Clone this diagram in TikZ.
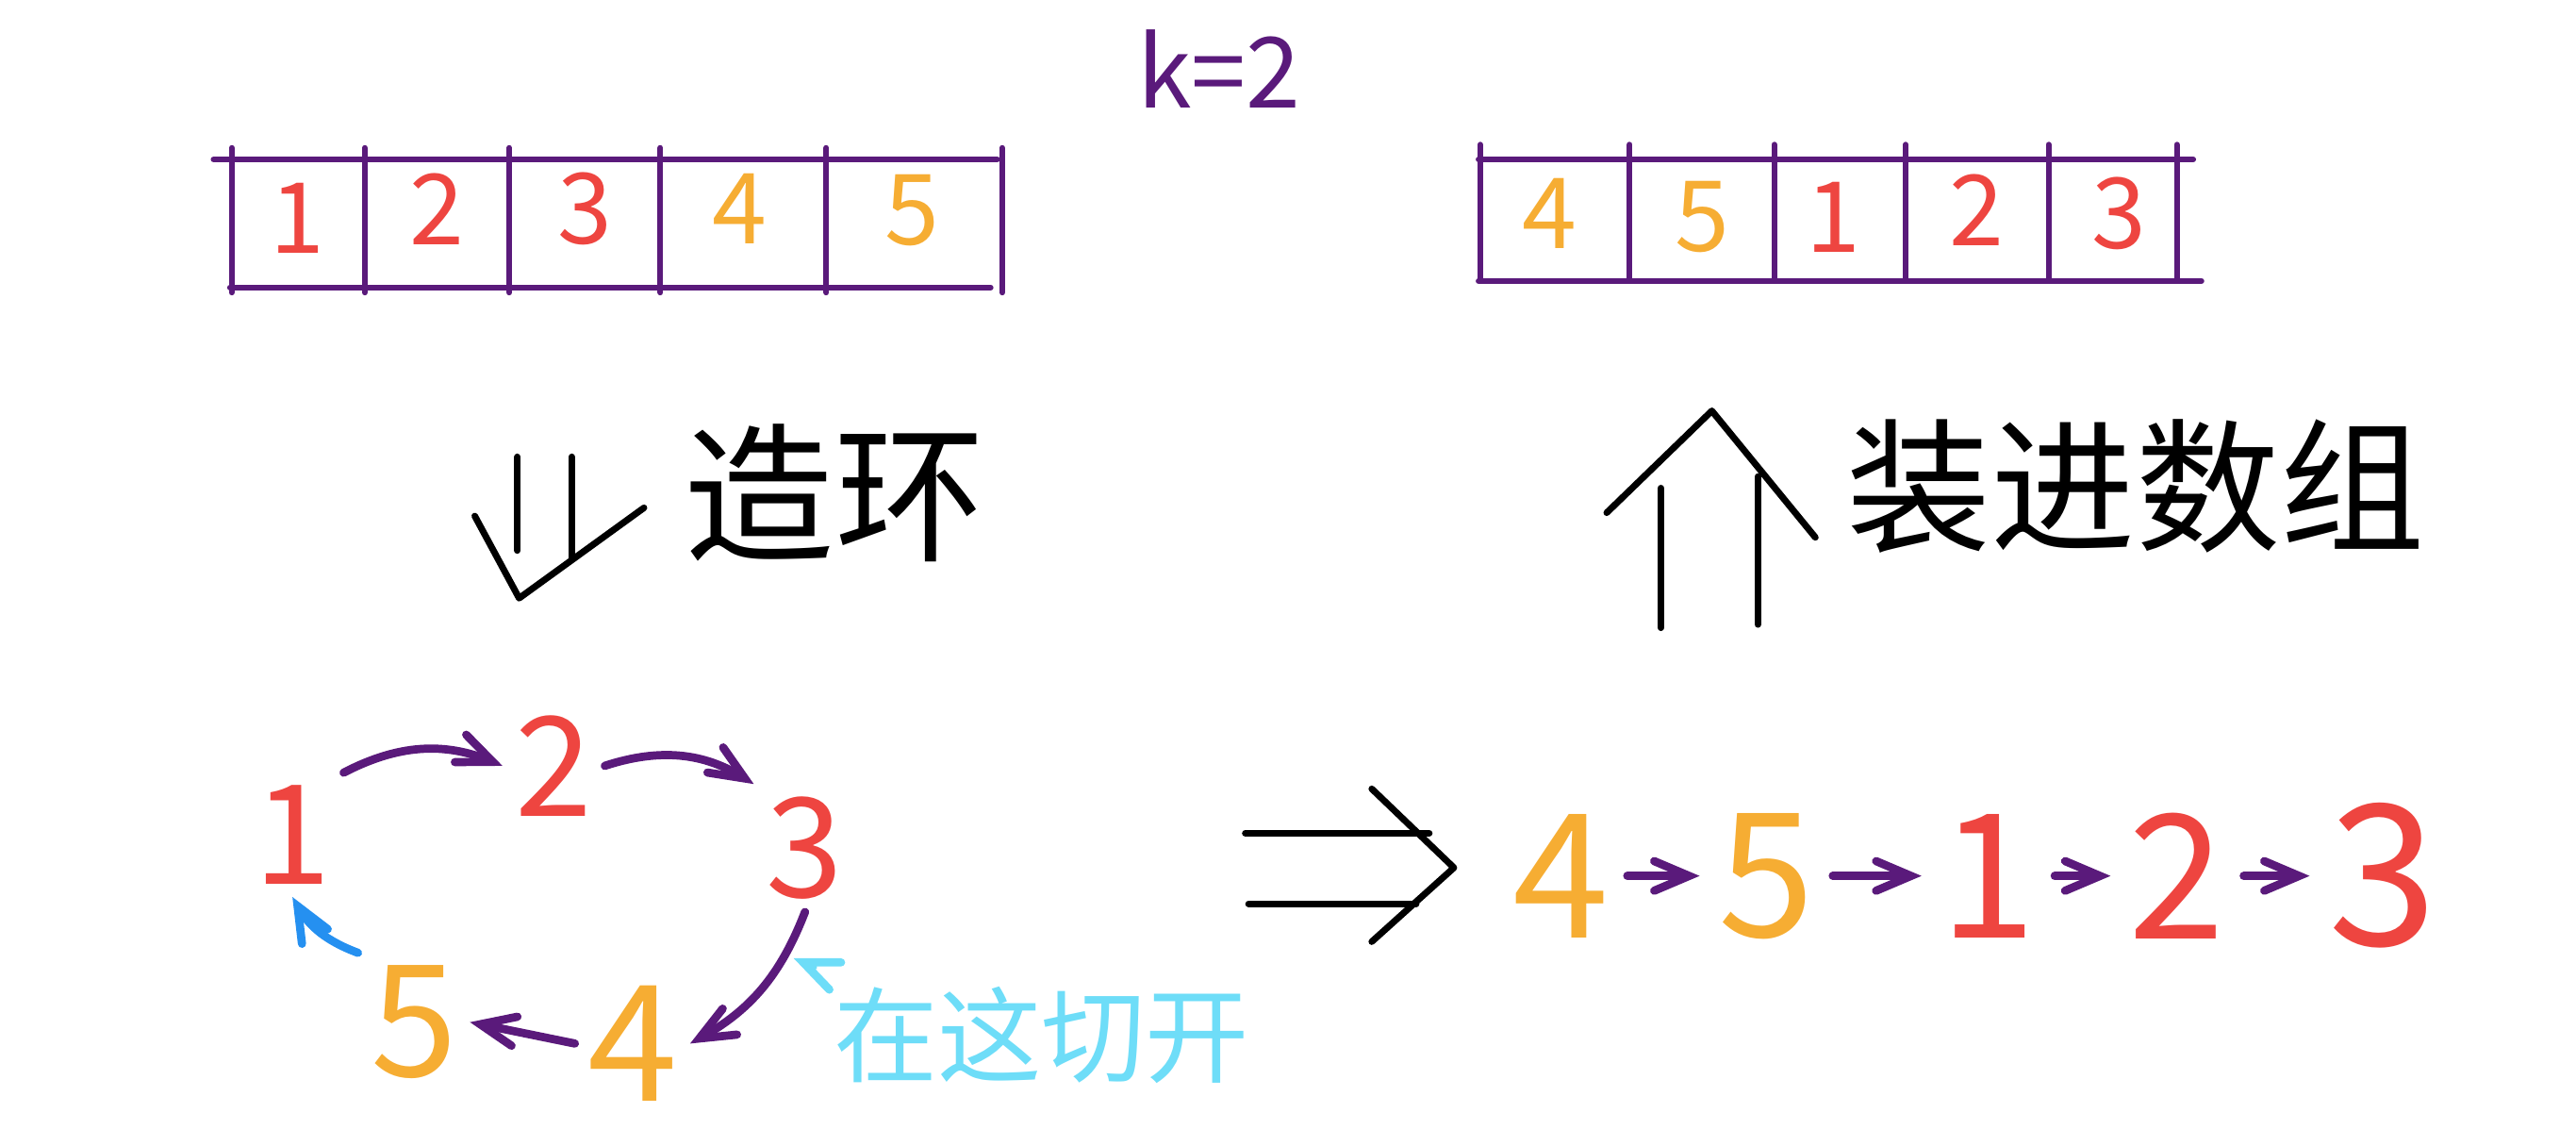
\documentclass[tikz,border=0pt]{standalone}
\usepackage{fontspec}
\setmainfont{Noto Sans CJK SC}
\usetikzlibrary{arrows, positioning}
\definecolor{inkpurple}{HTML}{5A1A7B}
\definecolor{inkred}{HTML}{EE4540}
\definecolor{inkorange}{HTML}{F6AD33}
\definecolor{inkblue}{HTML}{2590F0}
\definecolor{inkcyan}{HTML}{6EDDF8}

\begin{document}
\begin{tikzpicture}[x=0.01cm, y=-0.01cm, node distance=1.25cm]
\tikzstyle{num} = [inner sep=1pt, font=\fontsize{17}{17}\selectfont]
\tikzstyle{ring} = [inner sep=2pt, font=\fontsize{24}{24}\selectfont]
\tikzstyle{big} = [inner sep=3pt, font=\fontsize{30}{30}\selectfont]
\tikzstyle{grid} = [inkpurple, line width=0.035cm, line cap=round]
\tikzstyle{ink} = [black, line width=0.04cm, line cap=round, line join=round]
\tikzstyle{arrow} = [inkpurple, line width=0.05cm, line cap=round, ->, >=angle 45]
\useasboundingbox (0,0) rectangle (1568,697);

 % k and the two arrays
\node[num, inkpurple] (k) at (742,42) {k=2};
\draw[grid] (130,97) -- (607,97);
\draw[grid] (140,175) -- (603,175);
\foreach \x in {141,222,310,402,503,610} \draw[grid] (\x,90) -- (\x,178);
\draw[grid] (900,97) -- (1335,97);
\draw[grid] (900,171) -- (1340,171);
\foreach \x in {901,992,1080,1160,1247,1325} \draw[grid] (\x,88) -- (\x,171);

\node[num, inkred] (a1) at (181,133) {1};
\node[num, inkred] (a2) at (266,127) {2};
\node[num, inkred] (a3) at (356,127) {3};
\node[num, inkorange] (a4) at (450,127) {4};
\node[num, inkorange] (a5) at (555,128) {5};
\node[num, inkorange] (b4) at (943,130) {4};
\node[num, inkorange] (b5) at (1036,132) {5};
\node[num, inkred] (b1) at (1116,132) {1};
\node[num, inkred] (b2) at (1203,128) {2};
\node[num, inkred] (b3) at (1290,130) {3};

 % steps
\node[font=\fontsize{26}{26}\selectfont] (make) at (508,300) {造环};
\node[font=\fontsize{25}{25}\selectfont] (fill) at (1300,296) {装进数组};
\draw[ink] (315,278) -- (315,335);
\draw[ink] (348,278) -- (348,340);
\draw[ink] (289,314) -- (316,364) -- (392,309);
\draw[ink] (1011,297) -- (1011,382);
\draw[ink] (1070,290) -- (1070,380);
\draw[ink] (978,312) -- (1042,250) -- (1105,327);
\draw[ink] (758,507) -- (870,507);
\draw[ink] (760,550) -- (862,550);
\draw[ink] (835,480) -- (885,528) -- (835,573);

 % the ring
\node[ring, inkred] (c1) at (178,508) {1};
\node[ring, inkred] (c2) at (337,466) {2};
\node[ring, inkred] (c3) at (490,516) {3};
\node[ring, inkorange, font=\fontsize{28}{28}\selectfont] (c4) at (385,635) {4};
\node[ring, inkorange, font=\fontsize{27}{27}\selectfont] (c5) at (252,622) {5};
\draw[arrow] (c1.north east) to[bend left=25] (c2.west);
\draw[arrow] (c2.east) to[bend left=25] (c3.north west);
\draw[arrow] (c3.south) to[bend left=20] (c4.east);
\draw[arrow] (c4.west) -- (c5.east);
\draw[arrow, inkblue] (c5.north west) to[bend left=20] (c1.south);

\node[inkcyan, font=\fontsize{18}{18}\selectfont] (cut) at (634,630) {在这切开};
\coordinate (gap) at (483,583);
\draw[arrow, inkcyan] (cut.north west) -- (gap);

 % the chain
\node[big, inkorange] (d4) at (950,533) {4};
\node[big, inkorange, right of=d4] (d5) {5};
\node[big, inkred, right of=d5, xshift=0.1cm] (d1) {1};
\node[big, inkred, right of=d1, xshift=-0.1cm] (d2) {2};
\node[big, inkred, right of=d2, font=\fontsize{34}{34}\selectfont] (d3) {3};
\draw[arrow] (d4) -- (d5);
\draw[arrow] (d5) -- (d1);
\draw[arrow] (d1) -- (d2);
\draw[arrow] (d2) -- (d3);
\end{tikzpicture}
\end{document}
